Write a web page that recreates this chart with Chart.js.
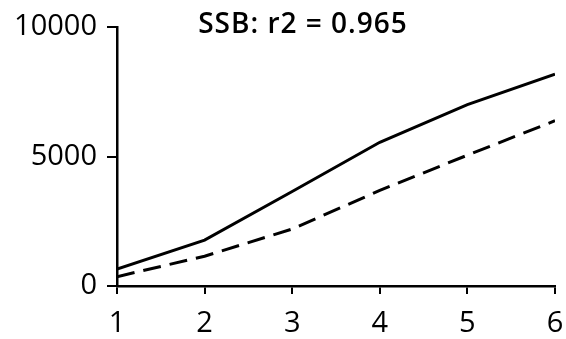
<!DOCTYPE html>
<html>
<head>
<meta charset="utf-8">
<script src="https://cdn.jsdelivr.net/npm/chart.js@4/dist/chart.umd.min.js"></script>
<style>
  html, body { margin: 0; padding: 0; background: #fff; }
  #wrap { width: 566px; height: 339px; }
</style>
</head>
<body>
<div id="wrap"><canvas id="c" width="566" height="339"></canvas></div>
<script>
// Projection years and spawning stock biomass for the two runs
const years = [1, 2, 3, 4, 5, 6];
const ssbObserved = [650, 1770, 3650, 5550, 7000, 8180];
const ssbPredicted = [360, 1150, 2200, 3690, 5050, 6380];
const yTickValues = [0, 5000, 10000];
const titleText = 'SSB: r2 = 0.965';

const FONT = '"Open Sans", Lato, sans-serif';

const toPoints = (xs, ys) => xs.map((x, i) => ({ x: x, y: ys[i] }));

// Title drawn above the plot, sharing the top band with the 10000 label
const titlePlugin = {
  id: 'plotTitle',
  afterDraw(chart) {
    const ctx = chart.ctx;
    ctx.save();
    ctx.font = '600 28px ' + FONT;
    if ('letterSpacing' in ctx) ctx.letterSpacing = '1px';
    ctx.fillStyle = '#000';
    ctx.textAlign = 'center';
    ctx.textBaseline = 'alphabetic';
    ctx.fillText(titleText, 303, 33);
    ctx.restore();
  }
};

new Chart(document.getElementById('c'), {
  type: 'line',
  data: {
    datasets: [
      {
        data: toPoints(years, ssbObserved),
        borderColor: '#000',
        borderWidth: 3,
        pointRadius: 0,
        tension: 0,
        fill: false
      },
      {
        data: toPoints(years, ssbPredicted),
        borderColor: '#000',
        borderWidth: 3,
        borderDash: [18, 9],
        pointRadius: 0,
        tension: 0,
        fill: false
      }
    ]
  },
  plugins: [titlePlugin],
  options: {
    responsive: false,
    animation: false,
    layout: { padding: { top: 27, right: 11, left: 0, bottom: 0 } },
    plugins: {
      legend: { display: false },
      title: { display: false },
      tooltip: { enabled: false }
    },
    scales: {
      x: {
        type: 'linear',
        min: years[0],
        max: years[years.length - 1],
        afterBuildTicks(scale) {
          scale.ticks = years.map(v => ({ value: v }));
        },
        afterFit(scale) {
          scale.height = 53;
          scale.paddingLeft = 0;
          scale.paddingRight = 0;
        },
        grid: {
          drawOnChartArea: false,
          drawTicks: true,
          tickLength: 8,
          color: '#000',
          lineWidth: 2
        },
        border: { display: true, color: '#000', width: 2.5 },
        ticks: {
          color: '#000',
          padding: 12,
          maxRotation: 0,
          font: { family: FONT, size: 29 }
        }
      },
      y: {
        type: 'linear',
        min: 0,
        max: 10000,
        afterBuildTicks(scale) {
          scale.ticks = yTickValues.map(v => ({ value: v }));
        },
        afterFit(scale) {
          scale.width = 117;
          scale.paddingTop = 0;
          scale.paddingBottom = 0;
        },
        grid: {
          drawOnChartArea: false,
          drawTicks: true,
          tickLength: 10,
          color: '#000',
          lineWidth: 2
        },
        border: { display: true, color: '#000', width: 2.5 },
        ticks: {
          color: '#000',
          padding: 10,
          font: { family: FONT, size: 29 },
          callback: v => String(v)
        }
      }
    }
  }
});
</script>
</body>
</html>
